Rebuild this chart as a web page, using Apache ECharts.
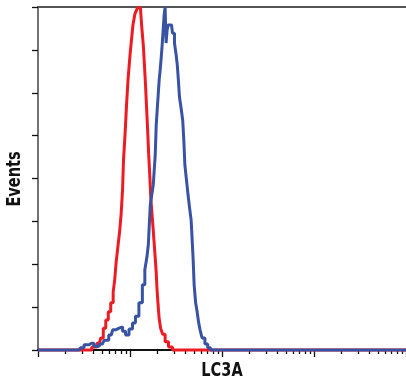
<!DOCTYPE html>
<html>
<head>
<meta charset="utf-8">
<script src="https://cdn.jsdelivr.net/npm/echarts@6/dist/echarts.min.js"></script>
<style>html,body{margin:0;padding:0;background:#fff}#c{width:406px;height:385px}</style>
</head>
<body>
<div id="c"></div>
<script>
// LC3A fluorescence (x, log) vs Events (y)
const redSeries = [[1,0],[3.6,0],[4.1,7],[4.64,16],[5.0,28],[5.25,51],[5.66,70],[5.95,89],[6.4,110],[6.73,135],[6.9,163],[7.25,205],[7.6,245],[7.8,275],[8.2,315],[8.4,373],[8.6,443],[9.06,501],[9.28,571],[9.76,630],[10.25,688],[10.5,723],[11.04,758],[11.6,784],[12.19,795],[12.5,800],[13.0,797],[13.75,758],[14.15,711],[14.55,665],[14.95,618],[15.35,564],[15.75,513],[16.2,455],[16.6,408],[17.05,355],[17.5,322],[17.95,292],[18.45,257],[18.95,222],[19.45,187],[19.95,140],[20.45,105],[21.0,75],[22.0,51],[23.2,37],[25.0,19],[27.5,7],[30.5,0],[10000,0]];
const blueSeries = [[1,0],[2.8,0],[2.97,5],[3.37,12],[3.81,16],[4.31,9],[5.0,14],[5.52,23],[6.25,35],[6.73,47],[7.25,51],[8.0,54],[8.62,44],[9.28,35],[10.25,49],[11.04,63],[11.89,79],[13.13,110],[14.14,152],[14.86,187],[15.62,215],[16.01,245],[16.41,292],[16.82,338],[17.68,362],[18.12,385],[18.57,420],[19.04,455],[19.51,525],[20.0,560],[20.5,595],[21.02,630],[21.54,653],[22.09,681],[22.64,711],[23.21,746],[23.79,781],[24.38,800],[24.99,716],[25.62,746],[26.27,758],[28.29,758],[29.6,739],[31.3,716],[32.2,688],[33.1,665],[34.0,630],[35.0,590],[36.9,564],[37.9,536],[39.0,490],[40.0,431],[42.2,397],[43.3,362],[45.6,331],[46.8,303],[48.0,257],[49.2,210],[50.4,152],[53.0,110],[54.3,89],[57.0,65],[58.5,47],[63.0,28],[67.5,14],[72.5,5],[77.5,0],[10000,0]];
const xMajorTicks = [1, 10, 100, 1000, 10000];
const xMinorTicks = [2,3,4,5,6,7,8,9,20,30,40,50,60,70,80,90,200,300,400,500,600,700,800,900,2000,3000,4000,5000,6000,7000,8000,9000];
const yTicks = [0,100,200,300,400,500,600,700,800];
const xName = 'LC3A';
const yName = 'Events';

const font = 'bold 19px "DejaVu Sans Condensed", "DejaVu Sans", sans-serif';
const chart = echarts.init(document.getElementById('c'), null, {renderer: 'canvas'});
chart.setOption({
  animation: false,
  grid: {left: 38, top: 7, width: 372, height: 343, containLabel: false},
  graphic: [
    {type: 'text', x: 222, y: 371, scaleX: 0.85,
     style: {text: xName, font: font, fill: '#111', textAlign: 'center', textVerticalAlign: 'middle'}},
    {type: 'text', x: 15, y: 179, rotation: Math.PI / 2, scaleX: 0.85,
     style: {text: yName, font: font, fill: '#111', textAlign: 'center', textVerticalAlign: 'middle'}}
  ],
  xAxis: [
    {type: 'log', logBase: 10, min: 1, max: 10000, position: 'bottom',
     axisLine: {show: true, lineStyle: {color: '#111', width: 2}},
     axisTick: {show: true, customValues: xMajorTicks, length: 7, lineStyle: {color: '#111', width: 1.3}},
     axisLabel: {show: false}, splitLine: {show: false}},
    {type: 'log', logBase: 10, min: 1, max: 10000, position: 'bottom', gridIndex: 0,
     axisLine: {show: false},
     axisTick: {show: true, customValues: xMinorTicks, length: 4, lineStyle: {color: '#111', width: 1.3}},
     axisLabel: {show: false}, splitLine: {show: false}},
    {type: 'log', logBase: 10, min: 1, max: 10000, position: 'top', gridIndex: 0,
     axisLine: {show: true, lineStyle: {color: '#555', width: 2}},
     axisTick: {show: false}, axisLabel: {show: false}, splitLine: {show: false}}
  ],
  yAxis: {type: 'value', min: 0, max: 800, interval: 100,
    axisLine: {show: true, lineStyle: {color: '#444', width: 1.5}},
    axisTick: {show: true, inside: false, customValues: yTicks, length: 6, lineStyle: {color: '#111', width: 1.3}},
    axisLabel: {show: false}, splitLine: {show: false}},
  series: [
    {type: 'line', data: redSeries, xAxisIndex: 0, showSymbol: false, symbol: 'none', step: 'middle', clip: false,
     lineStyle: {color: '#ed1c24', width: 3}, z: 2},
    {type: 'line', data: blueSeries, xAxisIndex: 0, showSymbol: false, symbol: 'none', step: 'middle', clip: false,
     lineStyle: {color: '#3953a4', width: 3}, z: 3}
  ]
});
</script>
</body>
</html>
